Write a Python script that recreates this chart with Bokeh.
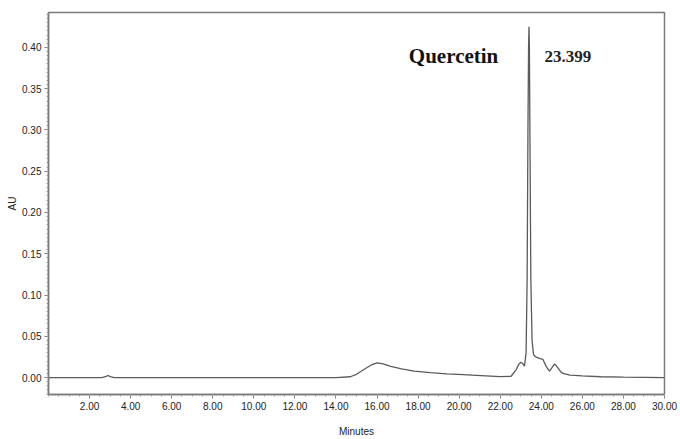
from bokeh.plotting import figure
from bokeh.models import FixedTicker, Range1d, Label, CustomJSTickFormatter
from bokeh.embed import file_html
from bokeh.resources import INLINE

# Chromatogram (minutes vs AU)
time_min = [0.0, 2.6, 2.8, 2.9, 3.0, 3.2, 14.0, 14.7, 15.0, 15.36, 15.7, 16.0,
            16.3, 16.67, 17.2, 17.8, 18.6, 19.4, 20.2, 21.07, 22.0, 22.53, 22.78,
            22.9, 23.0, 23.1, 23.18, 23.26, 23.31, 23.35, 23.38, 23.40, 23.42,
            23.45, 23.49, 23.55, 23.62, 23.72, 23.84, 23.95, 24.08, 24.25, 24.4,
            24.52, 24.65, 24.8, 24.95, 25.06, 25.4, 26.0, 26.9, 28.0, 30.0]
au = [0.0, 0.0, 0.0015, 0.0025, 0.0012, 0.0, 0.0, 0.001, 0.004, 0.0097, 0.015,
      0.0177, 0.0165, 0.0137, 0.0105, 0.0077, 0.006, 0.0045, 0.0035, 0.0024,
      0.0012, 0.0016, 0.0097, 0.016, 0.0185, 0.017, 0.0137, 0.03, 0.12, 0.30,
      0.40, 0.425, 0.40, 0.28, 0.12, 0.045, 0.028, 0.025, 0.024, 0.023, 0.022,
      0.013, 0.0077, 0.012, 0.0165, 0.012, 0.007, 0.005, 0.003, 0.002, 0.001,
      0.0005, 0.0]

x_ticks = [2, 4, 6, 8, 10, 12, 14, 16, 18, 20, 22, 24, 26, 28, 30]
y_ticks = [0.0, 0.05, 0.10, 0.15, 0.20, 0.25, 0.30, 0.35, 0.40]
x_minor = [i * 0.5 for i in range(0, 61)]
y_minor = [i * 0.005 for i in range(-4, 89)]

peak_name = "Quercetin"
peak_time_label = "23.399"

p = figure(width=680, height=439, output_backend="svg", toolbar_location=None,
           x_range=Range1d(0, 30), y_range=Range1d(-0.0205, 0.4423),
           min_border_left=48, min_border_right=16, min_border_top=12,
           min_border_bottom=44)

p.line(time_min, au, line_color="#5a5a5a", line_width=1.3)

p.grid.visible = False
p.outline_line_color = "#7a7a7a"
p.outline_line_width = 1.5
p.background_fill_color = "white"
p.border_fill_color = "white"

tick_font = "Liberation Sans"

p.xaxis.ticker = FixedTicker(ticks=x_ticks, minor_ticks=x_minor)
p.yaxis.ticker = FixedTicker(ticks=y_ticks, minor_ticks=y_minor)
p.xaxis.formatter = CustomJSTickFormatter(code="return tick.toFixed(2);")
p.yaxis.formatter = CustomJSTickFormatter(code="return tick.toFixed(2);")

for ax in (p.xaxis, p.yaxis):
    ax.axis_line_color = "#7a7a7a"
    ax.axis_line_width = 1.5
    ax.major_tick_line_color = "#7a7a7a"
    ax.minor_tick_line_color = "#9a9a9a"
    ax.major_tick_in = 0
    ax.major_tick_out = 4
    ax.minor_tick_in = 0
    ax.minor_tick_out = 2
    ax.major_label_text_font = tick_font
    ax.major_label_text_font_size = "10px"
    ax.major_label_text_color = "#222222"
    ax.major_label_standoff = 3
    ax.axis_label_text_font = tick_font
    ax.axis_label_text_font_size = "10px"
    ax.axis_label_text_font_style = "normal"
    ax.axis_label_text_color = "#222222"

p.xaxis.axis_label = "Minutes"
p.xaxis.axis_label_standoff = 13
p.yaxis.axis_label = "AU"
p.yaxis.axis_label_standoff = 1

p.add_layout(Label(x=17.55, y=0.3746, text=peak_name, text_font="Liberation Serif",
                   text_font_style="bold", text_font_size="21px", text_color="#111111"))
p.add_layout(Label(x=24.15, y=0.382, text=peak_time_label, text_font="Liberation Serif",
                   text_font_style="bold", text_font_size="17px", text_color="#222222"))

open("out.html", "w").write(file_html(p, INLINE))
